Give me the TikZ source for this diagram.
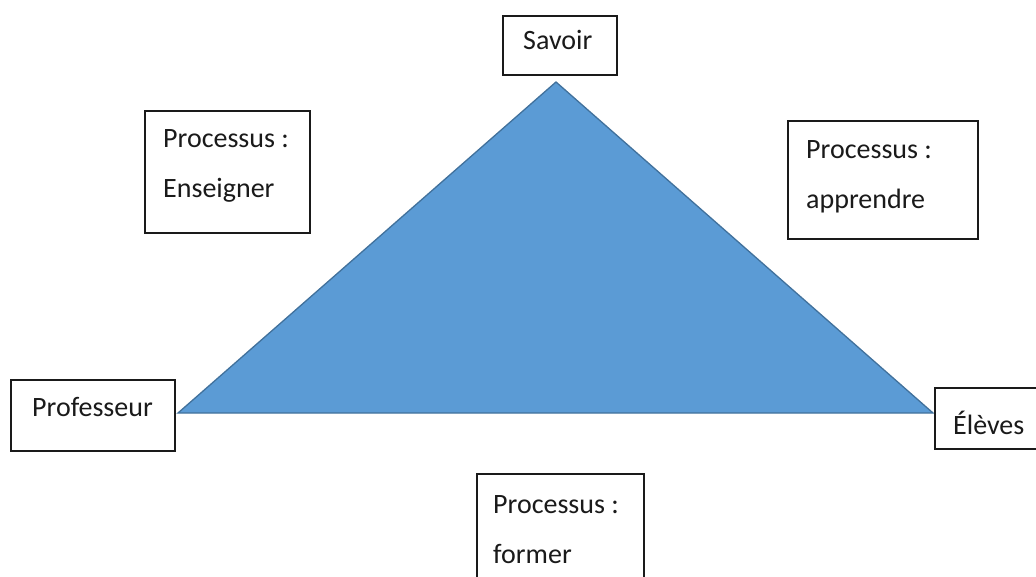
\documentclass[tikz,border=0pt]{standalone}
\usepackage{fontspec}
\setmainfont{Carlito}
\definecolor{triFill}{HTML}{5B9BD5}
\definecolor{triLine}{HTML}{41719C}
\definecolor{ink}{HTML}{1A1A1A}
\tikzset{
  box/.style={draw=ink, line width=1.4pt, fill=white},
  txt/.style={anchor=base west, inner sep=0pt, text=ink, font=\fontsize{28}{32}\selectfont},
}
\begin{document}
\begin{tikzpicture}[x=1pt, y=-1pt]
\useasboundingbox (0,0) rectangle (1036,577);
\clip (0,0) rectangle (1036,577);
% triangle
\coordinate (apex) at (556,82);
\coordinate (left) at (178,413);
\coordinate (right) at (933,413);
\fill[triFill] (apex) -- (left) -- (right) -- cycle;
\draw[triLine, line width=1.3pt, line join=miter] (apex) -- (left) -- (right) -- cycle;
% boxes
\draw[box] (503,16) rectangle (617,75);
\node[txt] (savoir) at (523,50) {Savoir};
\draw[box] (145,111) rectangle (310,233);
\node[txt] (ens1) at (163,148) {Processus :};
\node[txt] (ens2) at (163,198) {Enseigner};
\draw[box] (788,121) rectangle (978,239);
\node[txt] (app1) at (806,159) {Processus :};
\node[txt] (app2) at (806,209) {apprendre};
\draw[box] (11,380) rectangle (175,451);
\node[txt] (prof) at (32,416) {Professeur};
\draw[box] (935,388) rectangle (1050,449);
\node[txt] (eleves) at (953,434) {Élèves};
\draw[box] (477,474) rectangle (644,600);
\node[txt] (form1) at (493,513) {Processus :};
\node[txt] (form2) at (493,563) {former};
\end{tikzpicture}
\end{document}
